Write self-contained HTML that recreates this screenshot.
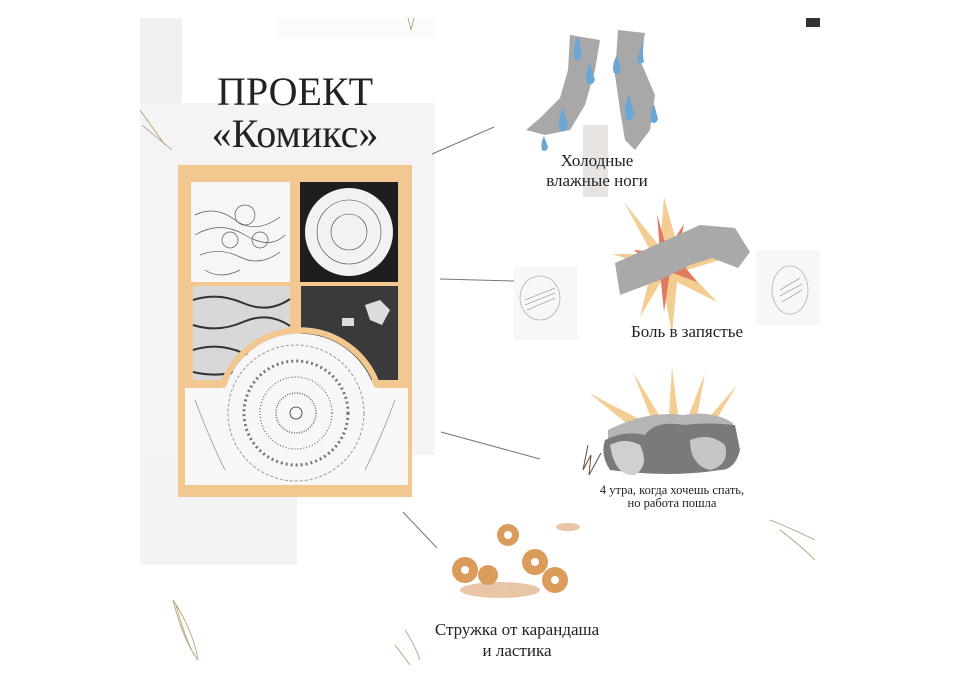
<!DOCTYPE html>
<html><head><meta charset="utf-8">
<style>
html,body{margin:0;padding:0;background:#fff;}
#c{position:relative;width:960px;height:680px;overflow:hidden;background:#fff;font-family:"Liberation Serif","Noto Serif CJK SC",serif;color:#222;}
.t{position:absolute;text-align:center;white-space:nowrap;line-height:1;}
</style></head><body>
<div id="c">
<svg width="960" height="680" style="position:absolute;left:0;top:0">
<!-- paper backgrounds -->
<rect x="140" y="18" width="42" height="547" fill="#f0f0f0"/>
<rect x="140" y="103" width="157" height="462" fill="#f3f3f3"/>
<rect x="140" y="103" width="295" height="352" fill="#f4f4f4"/>
<rect x="275" y="18" width="160" height="20" fill="#fbfbfb"/>
<!-- orange frame -->
<rect x="178" y="165" width="234" height="332" fill="#f2c890"/>
<rect x="191" y="182" width="99" height="100" fill="#f6f6f6"/>
<g stroke="#555" stroke-width="0.7" fill="none">
<path d="M195 215 q20 -10 40 5 t45 -3 M195 235 q25 -15 50 0 t40 0 M200 255 q20 -8 40 2 t40 -5 M205 270 q15 10 35 0"/>
<circle cx="245" cy="215" r="10"/><circle cx="230" cy="240" r="8"/><circle cx="260" cy="240" r="8"/>
</g>
<rect x="300" y="182" width="98" height="100" fill="#1e1e1e"/>
<circle cx="349" cy="232" r="44" fill="#f2f2f2"/>
<g stroke="#444" stroke-width="0.6" fill="none"><circle cx="349" cy="232" r="32"/><circle cx="349" cy="232" r="18"/></g>
<rect x="193" y="286" width="97" height="94" fill="#d8d8d8"/>
<g stroke="#333" stroke-width="2" fill="none"><path d="M193 300 q25 -8 50 3 t47 -4 M193 325 q25 8 50 -3 t47 4 M193 350 q25 -8 50 3 t47 -4 M193 372 q25 6 50 -2"/></g>
<rect x="301" y="286" width="97" height="94" fill="#3a3a3a"/>
<path d="M365 305 l15 -5 l10 10 l-8 15 l-12 -5z" fill="#ddd"/>
<rect x="342" y="318" width="12" height="8" fill="#ddd"/>
<!-- bottom arch panel -->
<path d="M185 387 H226 A78 78 0 0 1 374 387 H408 V485 H185Z" fill="#f7f7f7"/>
<path d="M222 387 A82 82 0 0 1 378 387" fill="none" stroke="#f2c890" stroke-width="6"/>
<rect x="185" y="384" width="38" height="4" fill="#f2c890"/>
<rect x="377" y="384" width="31" height="4" fill="#f2c890"/>
<circle cx="296" cy="413" r="68" fill="none" stroke="#999" stroke-width="1" stroke-dasharray="3 2"/>
<circle cx="296" cy="413" r="52" fill="none" stroke="#777" stroke-width="3" stroke-dasharray="2 3"/>
<circle cx="296" cy="413" r="36" fill="none" stroke="#666" stroke-width="1.2" stroke-dasharray="1 2"/>
<circle cx="296" cy="413" r="20" fill="none" stroke="#666" stroke-width="1.5" stroke-dasharray="1 1.5"/>
<circle cx="296" cy="413" r="6" fill="none" stroke="#555"/>
<g stroke="#999" fill="none" stroke-width="0.8"><path d="M195 400 q15 40 30 70 M395 400 q-15 40 -30 70"/></g>
<!-- connector lines -->
<g stroke="#777" stroke-width="1"><line x1="432" y1="154" x2="494" y2="127"/><line x1="440" y1="279" x2="548" y2="282"/><line x1="441" y1="432" x2="540" y2="459"/><line x1="403" y1="512" x2="437" y2="548"/></g>
<!-- feet -->
<path d="M570 35 L600 40 L595 70 L585 105 L570 130 L545 135 L526 130 L540 118 L560 98 L568 70Z" fill="#a8a8a8"/>
<path d="M618 30 L645 33 L640 60 L655 95 L650 130 L635 150 L625 140 L620 110 L615 75Z" fill="#a8a8a8"/>
<g fill="#6aa6d6"><path d="M578 36 q-6 14 -4 22 q5 5 8 -2 z"/><path d="M590 63 q-6 12 -3 20 q5 4 8 -3z"/><path d="M563 108 q-6 12 -3 22 q6 4 8 -4z"/><path d="M544 136 q-4 8 -2 14 q4 3 6 -3z"/><path d="M617 55 q-6 10 -3 18 q5 3 7 -3z"/><path d="M644 40 q-2 14 -0 22 q-5 4 -7 -3z"/><path d="M629 94 q-6 14 -3 25 q6 4 8 -5z"/><path d="M654 104 q-5 10 -3 18 q5 3 7 -3z"/></g>
<rect x="583" y="125" width="25" height="72" fill="#e8e4e2"/>
<!-- starburst wrist -->
<g transform="translate(672,262)">
<polygon fill="#f4cd92" points="-48,-60 -12,-15 -8,-65 5,-18 30,-35 12,-5 58,-5 15,8 45,40 5,20 0,72 -10,18 -32,55 -20,5 -60,-8 -20,-8" />
<polygon fill="#e07a60" points="-15,-48 -5,-12 12,-38 5,-5 25,20 -2,10 -8,50 -12,10 -38,-12 -12,-10"/>
</g>
<path d="M615 263 L660 243 L700 225 L735 228 L750 252 L738 268 L712 258 L690 265 L660 280 L620 295Z" fill="#a9a9a9"/>
<!-- sketch squares -->
<rect x="514" y="267" width="64" height="73" fill="#f7f7f7"/>
<ellipse cx="540" cy="298" rx="20" ry="22" fill="none" stroke="#a7b4c9" stroke-width="0.8"/>
<g stroke="#887" stroke-width="0.6"><path d="M525 300 l30 -12 M525 305 l30 -12 M527 310 l28 -12"/></g>
<rect x="756" y="250" width="64" height="75" fill="#f7f7f7"/>
<ellipse cx="790" cy="290" rx="18" ry="24" fill="none" stroke="#a7b4c9" stroke-width="0.8"/>
<g stroke="#887" stroke-width="0.6"><path d="M780 290 l20 -12 M780 296 l22 -12 M782 302 l20 -12"/></g>
<!-- cloud starburst -->
<g fill="#f4cd92"><polygon points="589,393 635,430 645,422"/><polygon points="633,372 655,428 665,425"/><polygon points="672,367 668,430 680,430"/><polygon points="705,373 685,425 695,428"/><polygon points="737,385 700,428 710,430"/></g>
<path d="M608 430 q40 -20 75 -15 q30 -5 50 8 l-3 20 q-50 10 -122 0z" fill="#b5b5b5"/>
<path d="M605 440 q20 -10 40 -5 q10 -15 40 -10 q20 -3 50 0 l5 25 q-5 20 -20 20 q-50 8 -110 0 q-10 -15 -5 -30z" fill="#7a7a7a"/>
<path d="M610 445 q15 -8 30 0 q10 20 -5 30 q-20 2 -25 -30z" fill="#d0d0d0"/>
<path d="M690 440 q20 -8 35 5 q5 20 -15 25 q-20 -5 -20 -30z" fill="#c6c6c6"/>
<path d="M588 445 l-5 25 l8 -15 l-2 20 l12 -22" fill="none" stroke="#6b4a35" stroke-width="1"/>
<!-- pencil shavings -->
<g fill="#d48a3f" opacity="0.85">
<circle cx="508" cy="535" r="11"/><circle cx="465" cy="570" r="13"/><circle cx="488" cy="575" r="10"/><circle cx="535" cy="562" r="13"/><circle cx="555" cy="580" r="13"/>
</g>
<g fill="#fff"><circle cx="508" cy="535" r="4"/><circle cx="535" cy="562" r="4"/><circle cx="555" cy="580" r="4"/><circle cx="465" cy="570" r="4"/></g>
<g fill="#d9a06a" opacity="0.6"><ellipse cx="500" cy="590" rx="40" ry="8"/><ellipse cx="568" cy="527" rx="12" ry="4"/></g>
<!-- corner scribbles -->
<g stroke="#b09a70" fill="none" stroke-width="0.8">
<path d="M173 600 q10 40 25 60 q-5 -30 -25 -60 M176 605 q8 30 18 50"/>
<path d="M140 110 l25 35 M142 125 l30 25"/>
<path d="M408 18 l3 12 l3 -12"/>
<path d="M770 520 q25 10 45 20 M780 530 q20 15 35 30"/>
<path d="M405 630 q10 15 15 30 M395 645 l15 20"/>
</g>
<rect x="806" y="18" width="14" height="9" fill="#333"/>
</svg>
<div class="t" style="left:195px;top:72px;width:200px;font-size:40px;">ПРОЕКТ</div>
<div class="t" style="left:195px;top:114px;width:200px;font-size:40px;">«Комикс»</div>
<div class="t" style="left:517px;top:151px;width:160px;font-size:17px;line-height:20px;">Холодные<br>влажные ноги</div>
<div class="t" style="left:607px;top:323px;width:160px;font-size:17px;">Боль в запястье</div>
<div class="t" style="left:582px;top:484px;width:180px;font-size:12.5px;line-height:13px;">4 утра, когда хочешь спать,<br>но работа пошла</div>
<div class="t" style="left:407px;top:619px;width:220px;font-size:17px;line-height:21px;">Стружка от карандаша<br>и ластика</div>
</div>
</body></html>
